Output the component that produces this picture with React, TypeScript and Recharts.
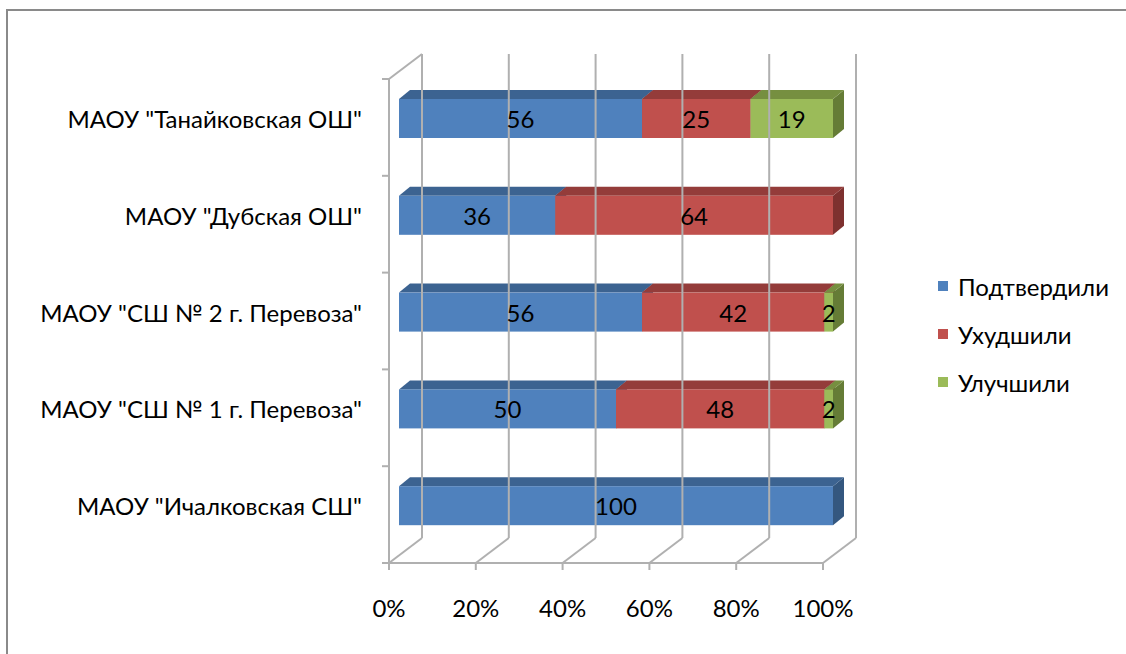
import React from 'react';
import { BarChart, Bar, XAxis, YAxis, LabelList } from 'recharts';

const schools = [
  'МАОУ "Танайковская ОШ"',
  'МАОУ "Дубская ОШ"',
  'МАОУ "СШ № 2 г. Перевоза"',
  'МАОУ "СШ № 1 г. Перевоза"',
  'МАОУ "Ичалковская СШ"',
];
const confirmed = [56, 36, 56, 50, 100];
const worsened = [25, 64, 42, 48, 0];
const improved = [19, 0, 2, 2, 0];
const xTicks = [0, 20, 40, 60, 80, 100];
const seriesNames = ['Подтвердили', 'Ухудшили', 'Улучшили'];

const data = schools.map((name, i) => ({
  name,
  confirmed: confirmed[i],
  worsened: worsened[i],
  improved: improved[i],
}));

const W = 1126;
const H = 654;
const M_TOP = 79;
const M_RIGHT = 303;
const Y_AXIS_W = 389;
const X_AXIS_H = 91;
const PLOT_TOP = M_TOP;
const PLOT_BOTTOM = H - X_AXIS_H;
const PLOT_LEFT = Y_AXIS_W;
const BAND = (PLOT_BOTTOM - PLOT_TOP) / schools.length;

// 3D offsets
const FACE_DX = 10;
const FACE_DY = -9;
const DEPTH_DX = 11;
const DEPTH_DY = -9;
const WALL_DX = 33;
const WALL_DY = -25;

const GRID = '#b0b0b0';
const FONT = 'Lato, "Open Sans", sans-serif';
const FS = 24;

const COLORS = {
  confirmed: { front: '#4F81BD', top: '#3C6391', side: '#34577F' },
  worsened: { front: '#C0504D', top: '#943C3A', side: '#7E312F' },
  improved: { front: '#9BBB59', top: '#768F40', side: '#657C36' },
};
const KEYS: Array<'confirmed' | 'worsened' | 'improved'> = ['confirmed', 'worsened', 'improved'];

const makeShape = (c: { front: string; top: string; side: string }) => (props: any) => {
  const { x, y, width, height } = props;
  if (!width || width <= 0.5) return <g />;
  const fx = x + FACE_DX;
  const fy = y + FACE_DY;
  const top = `${fx},${fy} ${fx + DEPTH_DX},${fy + DEPTH_DY} ${fx + width + DEPTH_DX},${fy + DEPTH_DY} ${fx + width},${fy}`;
  const side = `${fx + width},${fy} ${fx + width + DEPTH_DX},${fy + DEPTH_DY} ${fx + width + DEPTH_DX},${fy + height + DEPTH_DY} ${fx + width},${fy + height}`;
  return (
    <g>
      <polygon points={side} fill={c.side} />
      <polygon points={top} fill={c.top} />
      <rect x={fx} y={fy} width={width} height={height} fill={c.front} />
    </g>
  );
};

const renderLabel = (props: any) => {
  const { x, y, width, height, value } = props;
  if (!value) return null;
  return (
    <text
      x={x + width / 2 + FACE_DX}
      y={y + height / 2 + FACE_DY}
      textAnchor="middle"
      dominantBaseline="central"
      fontFamily={FONT}
      fontSize={FS}
      fill="#000"
    >
      {value}
    </text>
  );
};

const XTick = (props: any) => {
  const { x, payload } = props;
  const base = PLOT_BOTTOM;
  return (
    <g>
      <line x1={x} y1={base} x2={x + WALL_DX} y2={base + WALL_DY} stroke={GRID} strokeWidth={2} />
      <line x1={x + WALL_DX} y1={base + WALL_DY} x2={x + WALL_DX} y2={PLOT_TOP + WALL_DY} stroke={GRID} strokeWidth={2} />
      <line x1={x} y1={base} x2={x} y2={base + 7} stroke={GRID} strokeWidth={2} />
      <text x={x} y={base + 44} textAnchor="middle" dominantBaseline="central" fontFamily={FONT} fontSize={FS} fill="#000">
        {payload.value}%
      </text>
    </g>
  );
};

const YTick = (props: any) => {
  const { y, payload, index } = props;
  const t = y - BAND / 2;
  return (
    <g>
      <line x1={PLOT_LEFT - 7} y1={t} x2={PLOT_LEFT} y2={t} stroke={GRID} strokeWidth={2} />
      {index === schools.length - 1 && (
        <line x1={PLOT_LEFT - 7} y1={y + BAND / 2} x2={PLOT_LEFT} y2={y + BAND / 2} stroke={GRID} strokeWidth={2} />
      )}
      {index === 0 && (
        <line x1={PLOT_LEFT} y1={t} x2={PLOT_LEFT + WALL_DX} y2={t + WALL_DY} stroke={GRID} strokeWidth={2} />
      )}
      <text x={362} y={y + FACE_DY} textAnchor="end" dominantBaseline="central" fontFamily={FONT} fontSize={FS} fill="#000">
        {payload.value}
      </text>
    </g>
  );
};

const LegendBox = () => (
  <svg width={190} height={150} style={{ position: 'absolute', left: 935, top: 270 }}>
    {KEYS.map((k, i) => (
      <g key={k}>
        <rect x={3} y={11 + i * 48} width={10} height={10} fill={COLORS[k].front} />
        <text x={23} y={16 + i * 48} dominantBaseline="central" fontFamily={FONT} fontSize={FS} fill="#000">
          {seriesNames[i]}
        </text>
      </g>
    ))}
  </svg>
);

export default function App() {
  return (
    <div style={{ position: 'absolute', left: 0, top: 0, width: W, height: H, overflow: 'hidden', background: '#fff' }}>
      <div
        style={{
          position: 'absolute',
          left: 6,
          top: 9,
          width: W - 6,
          height: H - 9,
          borderTop: '2px solid #8a8a8a',
          borderLeft: '2px solid #8a8a8a',
          boxSizing: 'border-box',
        }}
      />
      <div style={{ position: 'absolute', left: 0, top: 0 }}>
        <BarChart
          width={W}
          height={H}
          data={data}
          layout="vertical"
          margin={{ top: M_TOP, right: M_RIGHT, bottom: 0, left: 0 }}
          barSize={39}
        >
          <XAxis
            type="number"
            domain={[0, 100]}
            ticks={xTicks}
            height={X_AXIS_H}
            tick={<XTick />}
            tickLine={false}
            axisLine={{ stroke: GRID, strokeWidth: 2 }}
            interval={0}
          />
          <YAxis
            type="category"
            dataKey="name"
            width={Y_AXIS_W}
            tick={<YTick />}
            tickLine={false}
            axisLine={{ stroke: GRID, strokeWidth: 2 }}
            interval={0}
          />
          {KEYS.map((k, i) => (
            <Bar
              key={k}
              dataKey={k}
              name={seriesNames[i]}
              stackId="a"
              fill={COLORS[k].front}
              shape={makeShape(COLORS[k])}
              isAnimationActive={false}
            >
              <LabelList dataKey={k} content={renderLabel} />
            </Bar>
          ))}
        </BarChart>
      </div>
      <LegendBox />
    </div>
  );
}
